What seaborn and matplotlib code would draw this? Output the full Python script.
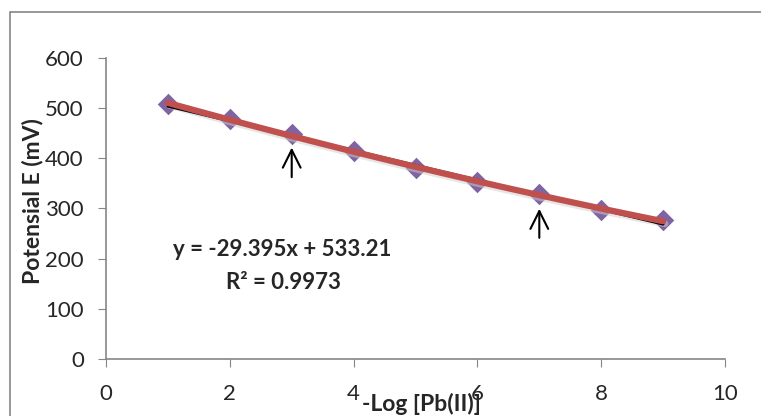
import numpy as np
import pandas as pd
import seaborn as sns
import matplotlib.pyplot as plt
from matplotlib.patches import Rectangle

# data
neg_log_pb = [1, 2, 3, 4, 5, 6, 7, 8, 9]
potential_mv = [508, 478, 448, 415, 380, 353, 328, 297, 277]
fit_slope = -29.395
fit_intercept = 533.21
fit_r2 = 0.9973
arrow_x = [3, 7]
arrow_base = [357, 236]
arrow_tip = [427, 305]

sns.set_style("white")
plt.rcParams['font.family'] = ['Lato', 'DejaVu Sans']

df = pd.DataFrame({'x': neg_log_pb, 'y': potential_mv})

fig = plt.figure(figsize=(7.61, 4.16), dpi=100)
ax = fig.add_axes([0.1393, 0.137, 0.8134, 0.7236])

# outer chart frame (runs off the right and bottom edges)
fig.patches.append(Rectangle((10 / 761, -0.2), 1.2, 1.2 - 12 / 416,
                             transform=fig.transFigure, fill=False,
                             edgecolor='#868686', linewidth=1.2))

# series markers
sns.scatterplot(data=df, x='x', y='y', marker='D', s=120, color='#8064a2',
                linewidth=0, ax=ax, zorder=2)

# black linear trendline
xs = np.linspace(min(neg_log_pb), max(neg_log_pb), 50)
ax.plot(xs, fit_slope * xs + fit_intercept, color='black', lw=2, zorder=3)

# red smoothed line with soft shadow
coef = np.polyfit(neg_log_pb, potential_mv, 2)
ys = np.polyval(coef, xs)
ax.plot(xs + 0.03, ys - 5, color='#cfcfcf', lw=5, alpha=0.5, zorder=2.5)
ax.plot(xs, ys, color='#c0504d', lw=4.5, zorder=4)

for x0, yb, yt in zip(arrow_x, arrow_base, arrow_tip):
    ax.annotate('', xy=(x0, yt), xytext=(x0, yb),
                arrowprops=dict(arrowstyle='->', color='black', lw=1.5,
                                mutation_scale=32))

ax.text(2.85, 218, 'y = -29.395x + 533.21', fontsize=16, fontweight='bold',
        ha='center', va='center')
ax.text(2.87, 153, 'R² = ' + str(fit_r2), fontsize=16, fontweight='bold',
        ha='center', va='center')

ax.set_xlim(0, 10)
ax.set_ylim(0, 600)
ax.set_xticks(range(0, 11, 2))
ax.set_yticks(range(0, 601, 100))
ax.tick_params(axis='both', labelsize=16, length=6, color='#868686',
               direction='out', bottom=True, left=True)
ax.tick_params(axis='x', pad=12)
ax.tick_params(axis='y', pad=10)
sns.despine(ax=ax)
for sp in ['left', 'bottom']:
    ax.spines[sp].set_color('#868686')
    ax.spines[sp].set_linewidth(1.2)

ax.set_xlabel('-Log [Pb(II)]', fontsize=16.5, fontweight='bold', va='center')
ax.set_ylabel('Potensial E (mV)', fontsize=16.5, fontweight='bold', va='center')
ax.xaxis.set_label_coords(0.509, -0.148)
ax.yaxis.set_label_coords(-0.118, 0.525)

fig.savefig('out.png', dpi=100)
